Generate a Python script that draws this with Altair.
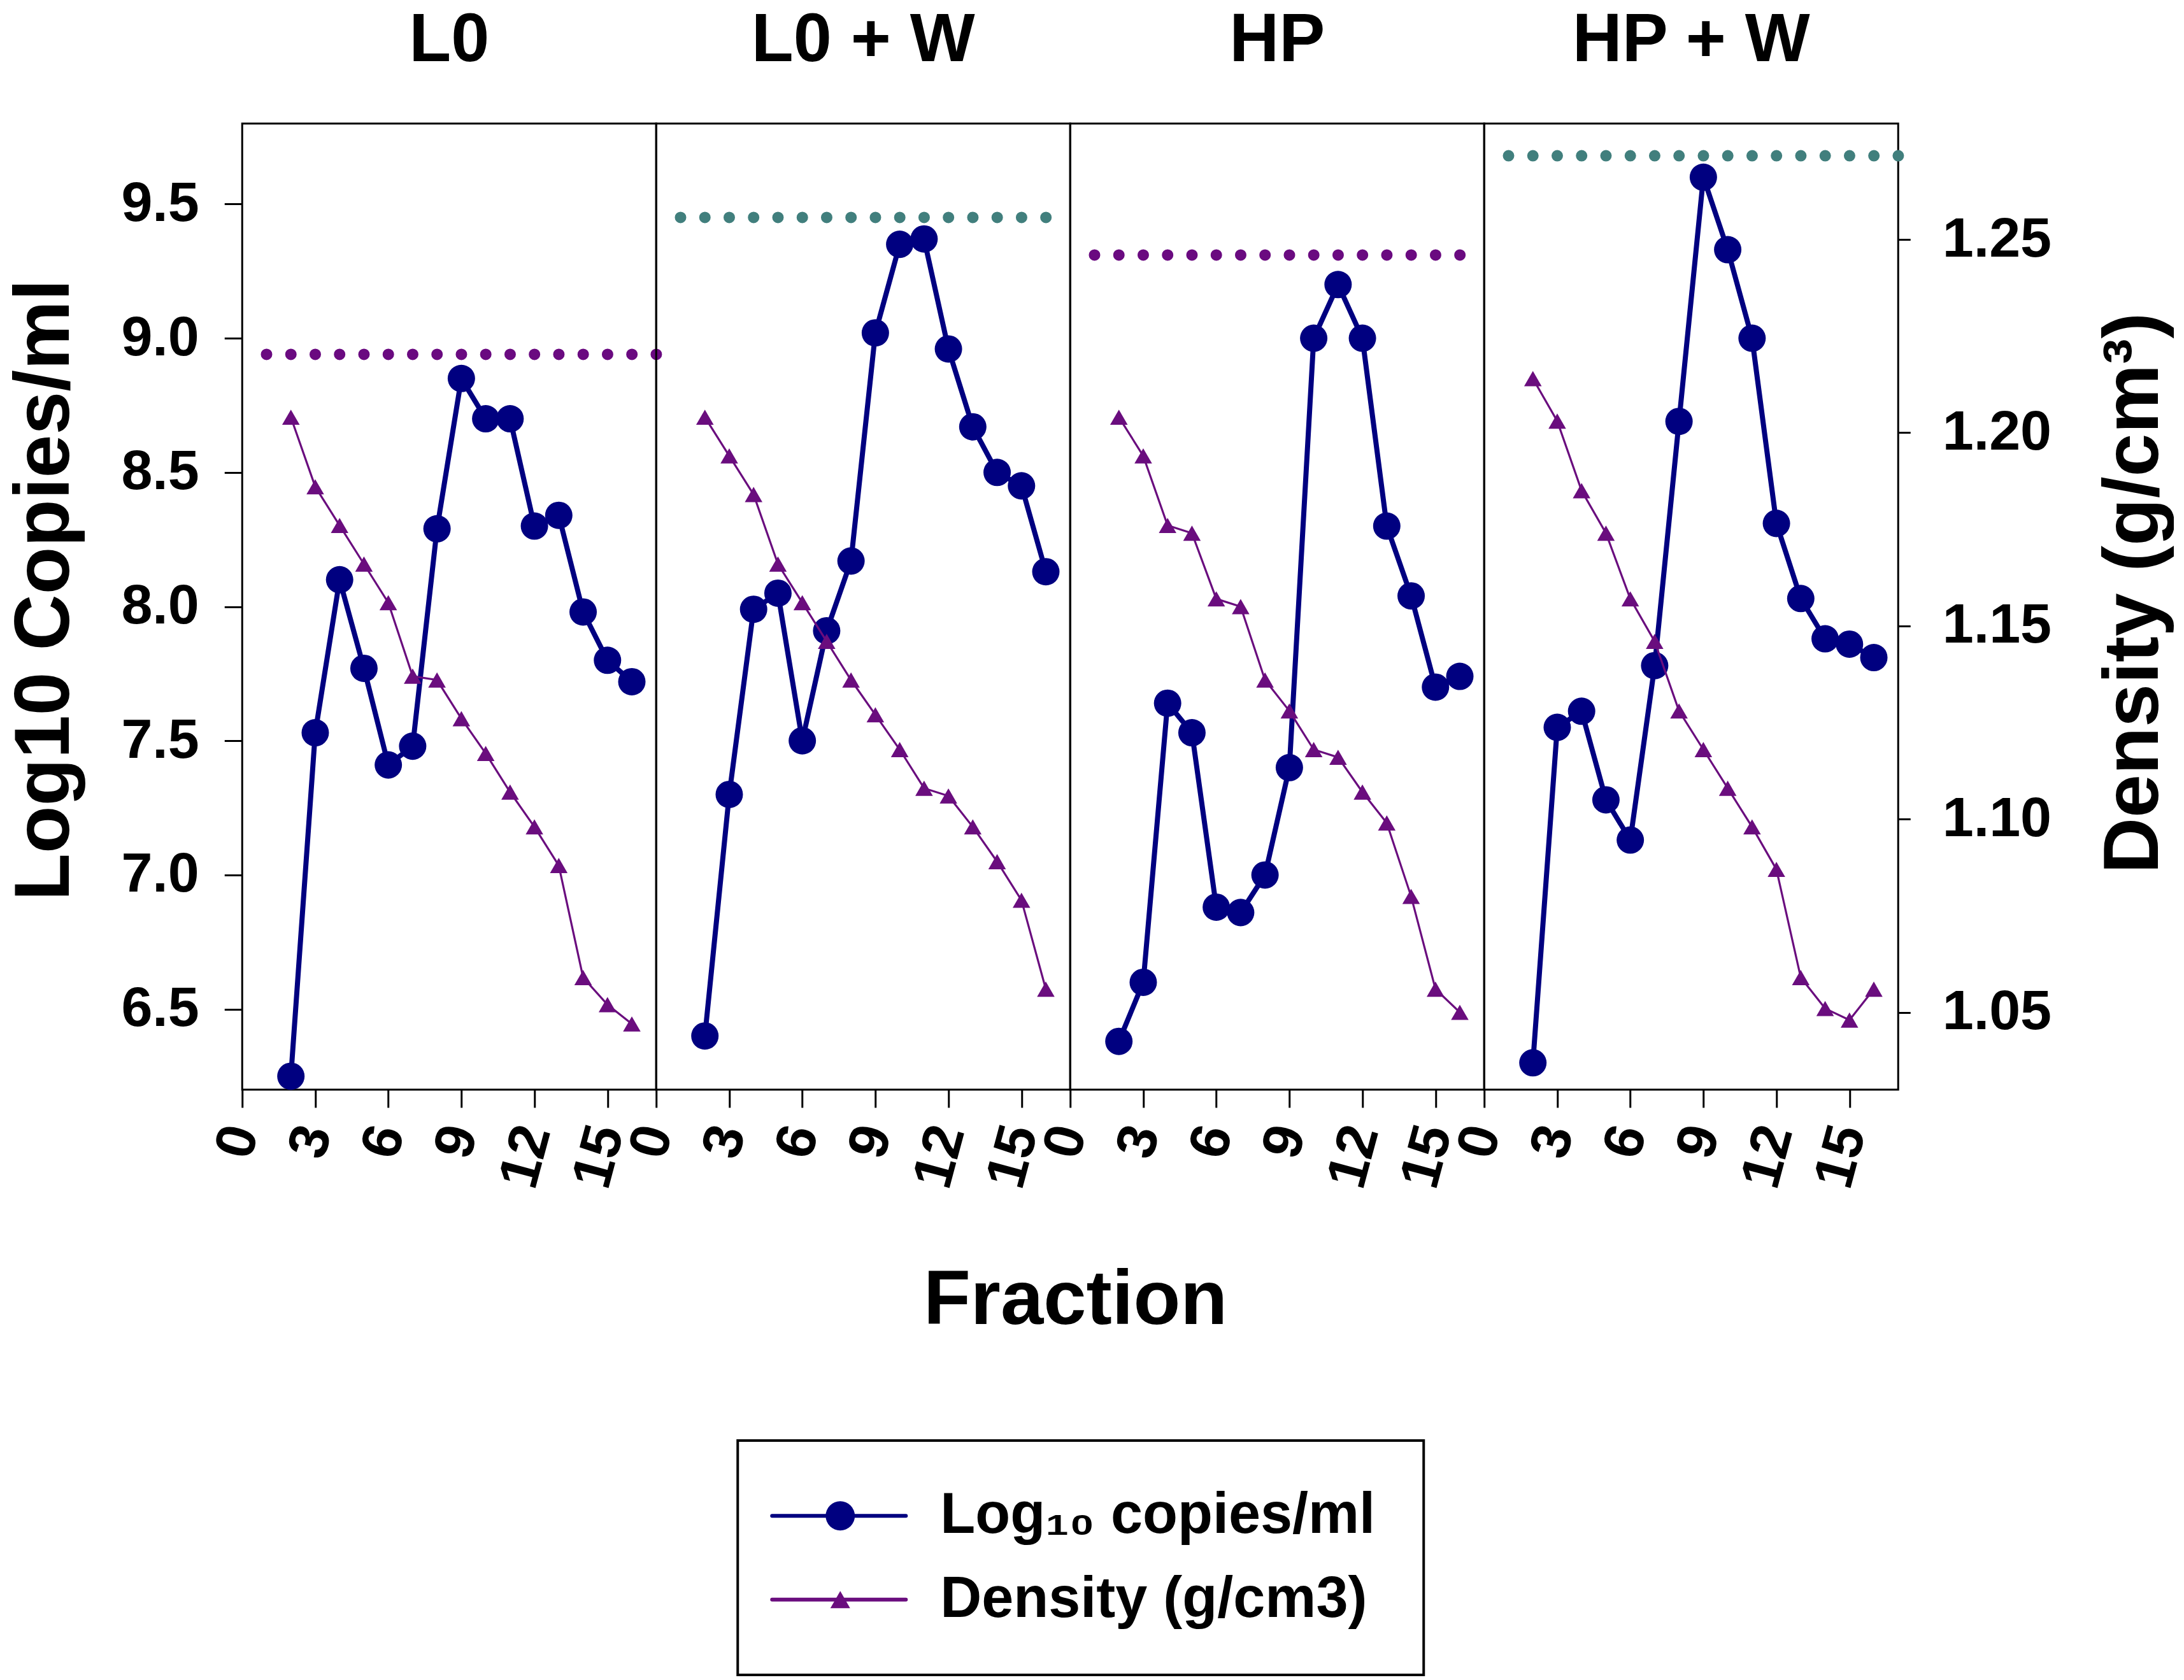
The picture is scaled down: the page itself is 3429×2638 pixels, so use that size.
import altair as alt
import pandas as pd

# panels and fractions
conditions = ["L0", "L0 + W", "HP", "HP + W"]
fractions = list(range(2, 17))

# Log10 copies/ml, fractions 2..16
copies_l0 = [6.25, 7.53, 8.10, 7.77, 7.41, 7.48, 8.29, 8.85, 8.70, 8.70, 8.30, 8.34, 7.98, 7.80, 7.72]
copies_l0w = [6.40, 7.30, 7.99, 8.05, 7.50, 7.91, 8.17, 9.02, 9.35, 9.37, 8.96, 8.67, 8.50, 8.45, 8.13]
copies_hp = [6.38, 6.60, 7.64, 7.53, 6.88, 6.86, 7.00, 7.40, 9.00, 9.20, 9.00, 8.30, 8.04, 7.70, 7.74]
copies_hpw = [6.30, 7.55, 7.61, 7.28, 7.13, 7.78, 8.69, 9.60, 9.33, 9.00, 8.31, 8.03, 7.88, 7.86, 7.81]

# density g/cm3, fractions 2..16
density_l0 = [1.204, 1.186, 1.176, 1.166, 1.156, 1.137, 1.136, 1.126, 1.117, 1.107, 1.098, 1.088, 1.059, 1.052, 1.047]
density_l0w = [1.204, 1.194, 1.184, 1.166, 1.156, 1.146, 1.136, 1.127, 1.118, 1.108, 1.106, 1.098, 1.089, 1.079, 1.056]
density_hp = [1.204, 1.194, 1.176, 1.174, 1.157, 1.155, 1.136, 1.128, 1.118, 1.116, 1.107, 1.099, 1.080, 1.056, 1.050]
density_hpw = [1.214, 1.203, 1.185, 1.174, 1.157, 1.146, 1.128, 1.118, 1.108, 1.098, 1.087, 1.059, 1.051, 1.048, 1.056]

# dotted reference line per panel (log10 copies)
ref_level = [8.94, 9.45, 9.31, 9.68]
ref_start = [1, 1, 1, 1]
ref_end = [17.05, 16.4, 16.1, 17.05]
ref_color = ["#6a0a80", "#417f7d", "#6a0a80", "#417f7d"]

legend_labels = ["Log\u2081\u2080 copies/ml", "Density (g/cm3)"]

NAVY = "#000080"
PURPLE = "#6a0d7e"
FONT = "Liberation Sans"
PANEL_W, PANEL_H = 650, 1517
LEGEND_W, LEGEND_H = 1077, 368

copies = [copies_l0, copies_l0w, copies_hp, copies_hpw]
density = [density_l0, density_l0w, density_hp, density_hpw]

x_scale = alt.Scale(domain=[0, 17], nice=False, zero=False)
copies_scale = alt.Scale(domain=[6.2, 9.8], nice=False, zero=False)
density_scale = alt.Scale(domain=[1.03, 1.28], nice=False, zero=False)

x_enc = alt.X(
    "fraction:Q",
    title=None,
    scale=x_scale,
    axis=alt.Axis(
        values=[0, 3, 6, 9, 12, 15], labelAngle=285, labelFlush=False,
        labelFontSize=88, labelFontWeight="bold", labelPadding=30,
        tickSize=28, tickWidth=3, tickColor="black", domain=False, grid=False,
    ),
)

copies_axis = alt.Axis(
    values=[6.5, 7.0, 7.5, 8.0, 8.5, 9.0, 9.5], format=".1f",
    labelFontSize=88, labelFontWeight="bold", labelPadding=40,
    tickSize=28, tickWidth=3, tickColor="black", domain=False, grid=False,
    title="Log10 Copies/ml",
    titleFontSize=122, titleFontWeight="bold", titlePadding=56, titleY=732,
)
density_axis = alt.Axis(
    orient="right", values=[1.05, 1.10, 1.15, 1.20, 1.25], format=".2f",
    labelFontSize=88, labelFontWeight="bold", labelPadding=50,
    tickSize=19, tickWidth=3, tickColor="black", domain=False, grid=False,
    title="Density (g/cm\u00b3)",
    titleFontSize=122, titleFontWeight="bold", titleX=311, titleY=737,
    titleAngle=270, titleBaseline="top",
)


def make_panel(i):
    df = pd.DataFrame({
        "fraction": fractions,
        "copies": copies[i],
        "density": density[i],
    })
    ref_df = pd.DataFrame({
        "start": [ref_start[i]],
        "end": [ref_end[i]],
        "level": [ref_level[i]],
    })
    left_axis = copies_axis if i == 0 else None
    right_axis = density_axis if i == len(conditions) - 1 else None

    y_copies = alt.Y("copies:Q", scale=copies_scale, axis=left_axis)
    y_density = alt.Y("density:Q", scale=density_scale, axis=right_axis)

    copies_line = alt.Chart(df).mark_line(color=NAVY, strokeWidth=8).encode(x=x_enc, y=y_copies)
    copies_pts = alt.Chart(df).mark_circle(color=NAVY, opacity=1, size=1850).encode(
        x=x_enc, y=y_copies)
    ref_rule = alt.Chart(ref_df).mark_rule(
        color=ref_color[i], strokeWidth=18, strokeCap="round",
        strokeDash=[0.01, PANEL_W / 17],
    ).encode(
        x=alt.X("start:Q", scale=x_scale),
        x2="end:Q",
        y=alt.Y("level:Q", scale=copies_scale, axis=left_axis),
    )
    density_line = alt.Chart(df).mark_line(color=PURPLE, strokeWidth=3.2).encode(
        x=x_enc, y=y_density)
    density_pts = alt.Chart(df).mark_point(
        shape="triangle-up", filled=True, color=PURPLE, opacity=1, size=760
    ).encode(x=x_enc, y=y_density)

    return (
        alt.layer(
            alt.layer(ref_rule, copies_line, copies_pts),
            alt.layer(density_line, density_pts),
        )
        .resolve_scale(y="independent")
        .properties(
            width=PANEL_W, height=PANEL_H,
            title=alt.TitleParams(
                conditions[i], fontSize=108, fontWeight="bold", font=FONT,
                frame="group", anchor="middle", baseline="alphabetic", offset=-10,
            ),
        )
    )


panels = alt.hconcat(
    *[make_panel(i) for i in range(len(conditions))], spacing=0, bounds="flush"
).properties(
    title=alt.TitleParams(
        "Fraction", orient="bottom", anchor="middle", fontSize=121,
        fontWeight="bold", font=FONT, offset=107, dx=-22,
    )
)

# legend box drawn as a small chart
legend_df = pd.DataFrame({
    "label": legend_labels,
    "color": [NAVY, PURPLE],
    "shape": ["circle", "triangle-up"],
    "size": [2100, 960],
})
legend_y = alt.Y(
    "label:N", sort=legend_labels, axis=None,
    scale=alt.Scale(type="point", padding=0.9),
)
legend_box = alt.Chart(pd.DataFrame({"box": ["legend"]})).mark_rect(
    filled=False, stroke="black", strokeWidth=4
).encode(
    x=alt.value(0), x2=alt.value(LEGEND_W), y=alt.value(0), y2=alt.value(LEGEND_H),
)
legend_line = alt.Chart(legend_df).mark_rule(strokeWidth=6, strokeCap="round").encode(
    x=alt.value(54), x2=alt.value(264), y=legend_y,
    color=alt.Color("color:N", scale=None),
)
legend_mark = alt.Chart(legend_df).mark_point(filled=True, opacity=1).encode(
    x=alt.value(161), y=legend_y,
    color=alt.Color("color:N", scale=None),
    shape=alt.Shape("shape:N", scale=None),
    size=alt.Size("size:Q", scale=None),
)
legend_text = alt.Chart(legend_df).mark_text(
    align="left", baseline="middle", fontSize=90, fontWeight="bold", font=FONT,
    color="black",
).encode(x=alt.value(318), y=legend_y, text="label:N")
# the view is wider than the box so that centring puts the box under the panels
legend = alt.layer(legend_box, legend_line, legend_mark, legend_text).properties(
    width=LEGEND_W + 398, height=LEGEND_H,
    view=alt.ViewBackground(stroke="transparent"),
)

chart = (
    alt.vconcat(panels, legend, spacing=154, center=True)
    .properties(padding=0, background="white")
    .configure(font=FONT)
    .configure_view(stroke="black", strokeWidth=3)
    .configure_axis(labelColor="black", titleColor="black")
)

chart.save("out.html", embed_options={"renderer": "svg", "actions": False})
